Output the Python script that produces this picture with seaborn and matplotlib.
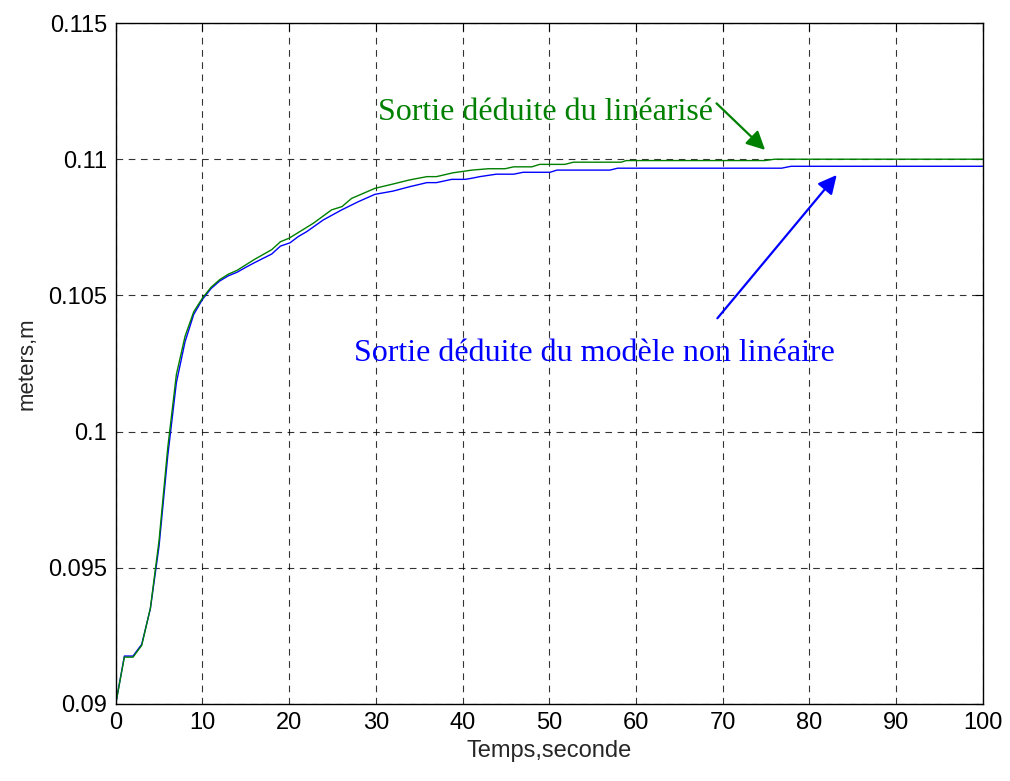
import matplotlib
matplotlib.use("Agg")
import matplotlib.pyplot as plt
import seaborn as sns
import pandas as pd

# ---- data ----
green_t = [0, 1, 2, 3, 4, 5, 6, 7, 8, 9, 10, 11, 12, 13, 14, 15, 16, 17, 18, 19, 20,
           22.8, 24.9, 26.1, 27.2, 29.9, 32.0, 33.9, 35.9, 37.0, 38.9, 41.1, 43.0, 44.9,
           45.9, 48.0, 48.9, 51.8, 52.8, 58.3, 58.9, 74.9, 76, 100]
green_y = [0.09, 0.09172, 0.09172, 0.09215, 0.09352, 0.0960, 0.0994, 0.1021, 0.1035, 0.1044,
           0.10490, 0.1053, 0.10558, 0.10578, 0.10592, 0.10612, 0.10632, 0.10650, 0.10668,
           0.10697, 0.10710, 0.10765, 0.10814, 0.10826, 0.10856, 0.10893, 0.10909, 0.10924,
           0.10936, 0.10936, 0.10950, 0.10960, 0.10965, 0.10965, 0.10972, 0.10972, 0.10981,
           0.10981, 0.10989, 0.10989, 0.10995, 0.10995, 0.11, 0.11]

blue_t = [0, 1, 2, 3, 4, 5, 6, 7, 8, 9, 10, 11, 12, 13, 14, 15, 16, 17, 18, 19,
          20.1, 21.06, 22.03, 23.94, 26.07, 27.98, 29.9, 32.0, 33.9, 35.9, 37.0, 38.75,
          40.3, 41.06, 42.0, 43.9, 45.9, 47.0, 50.1, 50.9, 57.0, 57.9, 76.8, 77.9, 100]
blue_y = [0.09, 0.09176, 0.09176, 0.09219, 0.09350, 0.0958, 0.0991, 0.1018, 0.1033, 0.1043,
          0.10485, 0.10525, 0.10553, 0.10572, 0.10585, 0.10603, 0.10620, 0.10636, 0.10652,
          0.10681, 0.10693, 0.10716, 0.10734, 0.10777, 0.10814, 0.10844, 0.10871, 0.10883,
          0.10899, 0.10914, 0.10914, 0.10926, 0.10926, 0.10930, 0.10936, 0.10945, 0.10945,
          0.10952, 0.10952, 0.10960, 0.10960, 0.10967, 0.10967, 0.10974, 0.10974]

x_ticks = [0, 10, 20, 30, 40, 50, 60, 70, 80, 90, 100]
y_ticks = [0.09, 0.095, 0.1, 0.105, 0.11, 0.115]
y_tick_labels = ["0.09", "0.095", "0.1", "0.105", "0.11", "0.115"]

label_lin = "Sortie déduite du linéarisé"
label_nonlin = "Sortie déduite du modèle non linéaire"
x_label = "Temps,seconde"
y_label = "meters,m"

# ---- plot ----
sns.set_style("white")
plt.rcParams["font.family"] = ["Liberation Sans", "DejaVu Sans"]

fig = plt.figure(figsize=(10.10, 7.81), dpi=100)
ax = fig.add_axes([115.7 / 1010, 1 - 704 / 781, (982.7 - 115.7) / 1010, (704 - 23) / 781])

df_b = pd.DataFrame({"t": blue_t, "y": blue_y})
df_g = pd.DataFrame({"t": green_t, "y": green_y})
sns.lineplot(data=df_b, x="t", y="y", color=(0, 0, 1), linewidth=1.0, ax=ax, sort=False)
sns.lineplot(data=df_g, x="t", y="y", color=(0, 0.5, 0), linewidth=1.0, ax=ax, sort=False)

ax.set_xlim(0, 100)
ax.set_ylim(0.09, 0.115)
ax.set_xticks(x_ticks)
ax.set_xticklabels([str(v) for v in x_ticks])
ax.set_yticks(y_ticks)
ax.set_yticklabels(y_tick_labels)
ax.tick_params(direction="in", length=6, width=0.8, top=True, right=True,
               labelsize=17, colors="black", pad=6)
ax.grid(True, color="black", linestyle=(0, (6, 5)), linewidth=0.8, alpha=0.8)
for s in ax.spines.values():
    s.set_color("black")
    s.set_linewidth(1.0)

ax.set_xlabel(x_label, fontsize=17, labelpad=4)
ax.set_ylabel(y_label, fontsize=16, labelpad=8)

serif = ["Liberation Serif", "DejaVu Serif"]
ax.annotate("", xy=(74.9, 0.11034), xytext=(69.3, 0.11205),
            arrowprops=dict(arrowstyle="-|>", color=(0, 0.5, 0), lw=1.6, mutation_scale=28,
                            shrinkA=0, shrinkB=0))
ax.annotate("", xy=(83.16, 0.10942), xytext=(69.4, 0.10416),
            arrowprops=dict(arrowstyle="-|>", color=(0, 0, 1), lw=1.6, mutation_scale=28,
                            shrinkA=0, shrinkB=0))
ax.text(30.3, 0.11144, label_lin, color=(0, 0.5, 0), fontsize=23, family=serif,
        ha="left", va="baseline")
ax.text(27.45, 0.10259, label_nonlin, color=(0, 0, 1), fontsize=23, family=serif,
        ha="left", va="baseline")

fig.savefig("out.png", dpi=100)
